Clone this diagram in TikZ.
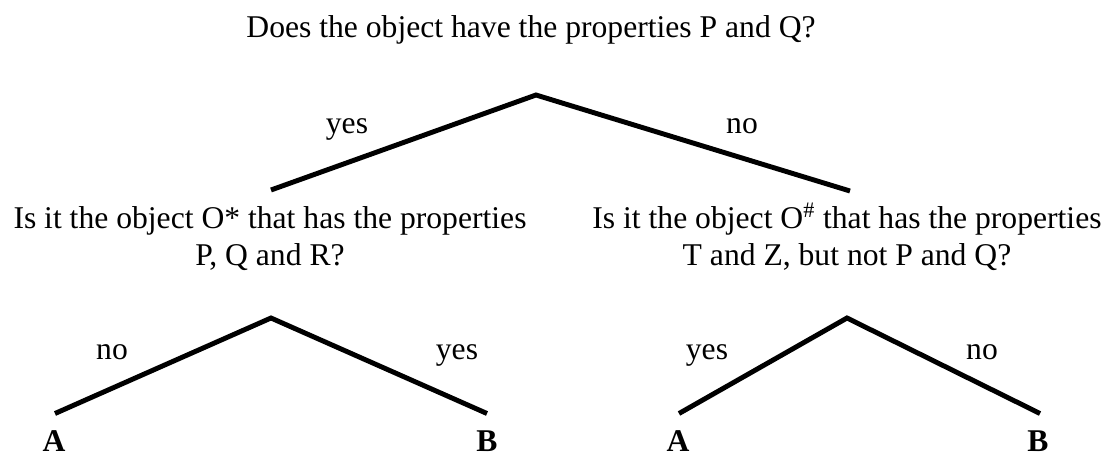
\documentclass[tikz,border=0pt]{standalone}
\usepackage{fontspec}
\setmainfont{Liberation Serif}
\usepackage{tikz}

\tikzset{
	branch/.style={line width=2.8pt, line cap=butt, line join=miter},
	question/.style={anchor=base, align=center, inner sep=0pt},
	answer/.style={anchor=base, inner sep=0pt},
	leaf/.style={anchor=base, inner sep=0pt, font=\fontsize{18}{21}\selectfont\bfseries}
}

\begin{document}
\begin{tikzpicture}[line join=round, font=\fontsize{18}{21}\selectfont]
	\useasboundingbox (0,0) rectangle (22.22,-9.12);
	
	% CÂU HỎI GỐC: P và Q?
	\node[question] (root) at (10.62,-0.74) {Does the object have the properties P and Q?};
	\coordinate (top) at (10.72,-1.90);
	\coordinate (topL) at (5.42,-3.80);
	\coordinate (topR) at (17.00,-3.82);
	\draw[branch] (topL) -- (top) -- (topR);
	\node[answer] (topyes) at (6.94,-2.66) {yes};
	\node[answer] (topno) at (14.84,-2.66) {no};
	
	% NHÁNH TRÁI: O*
	\begin{scope}[shift={(0,0)}]
		\node[question] (qstar) at (5.40,-5.30) {Is it the object O* that has the properties\\P, Q and R?};
		\coordinate (apexL) at (5.42,-6.36);
		\coordinate (endLA) at (1.10,-8.27);
		\coordinate (endLB) at (9.74,-8.27);
		\draw[branch] (endLA) -- (apexL) -- (endLB);
		\node[answer] (noL) at (2.24,-7.18) {no};
		\node[answer] (yesL) at (9.14,-7.18) {yes};
		\node[leaf] (leafLA) at (1.08,-9.02) {A};
		\node[leaf] (leafLB) at (9.74,-9.02) {B};
	\end{scope}
	
	% NHÁNH PHẢI: O#
	\begin{scope}[shift={(0,0)}]
		\node[question] (qhash) at (16.94,-5.30) {Is it the object O\textsuperscript{\#} that has the properties\\T and Z, but not P and Q?};
		\coordinate (apexR) at (16.94,-6.36);
		\coordinate (endRA) at (13.58,-8.27);
		\coordinate (endRB) at (20.80,-8.27);
		\draw[branch] (endRA) -- (apexR) -- (endRB);
		\node[answer] (yesR) at (14.14,-7.18) {yes};
		\node[answer] (noR) at (19.64,-7.18) {no};
		\node[leaf] (leafRA) at (13.56,-9.02) {A};
		\node[leaf] (leafRB) at (20.76,-9.02) {B};
	\end{scope}
\end{tikzpicture}
\end{document}
